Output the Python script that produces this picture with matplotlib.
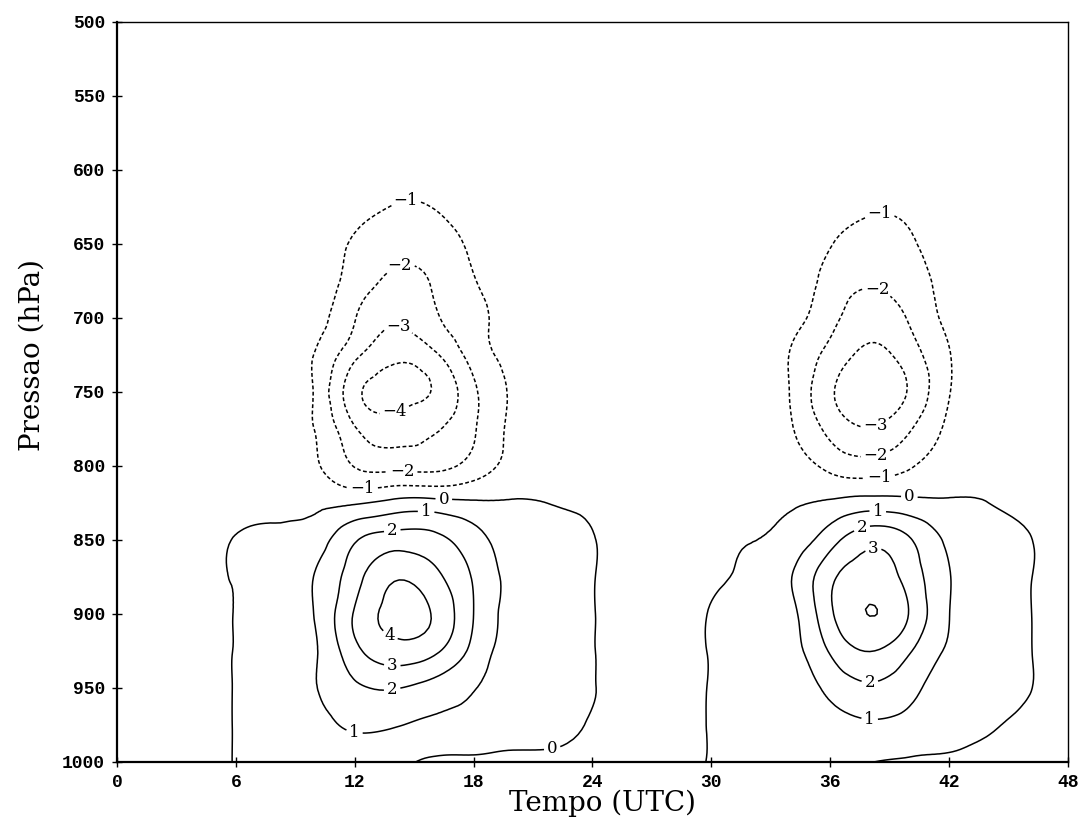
import numpy as np
import matplotlib
matplotlib.use('Agg')
import matplotlib.pyplot as plt
import matplotlib.tri as mtri

plt.rcParams['font.family'] = 'DejaVu Serif'

# -- grade: tempo (UTC) x nivel de pressao (hPa)
tempo = [0, 2, 4, 6, 8, 10, 12, 14, 16, 18, 20, 22, 24,
         26, 28, 30, 32, 34, 36, 38, 40, 42, 44, 46, 48]
pressao = [500, 525, 550, 575, 600, 625, 650, 675, 700, 725, 750,
           775, 800, 825, 850, 875, 900, 925, 950, 975, 1000]

# -- campo em cada nivel (um valor por horario da grade)
p500 = [-0.1, -0.1, -0.1, -0.1, -0.1, -0.1, -0.15, -0.2, -0.15, -0.1, -0.1, -0.1, -0.1,
        -0.1, -0.1, -0.1, -0.1, -0.1, -0.12, -0.15, -0.12, -0.1, -0.1, -0.1, -0.1]
p525 = [-0.1, -0.1, -0.1, -0.1, -0.1, -0.12, -0.2, -0.3, -0.25, -0.12, -0.1, -0.1, -0.1,
        -0.1, -0.1, -0.1, -0.1, -0.12, -0.18, -0.3, -0.22, -0.12, -0.1, -0.1, -0.1]
p550 = [-0.1, -0.1, -0.1, -0.1, -0.1, -0.15, -0.3, -0.45, -0.35, -0.2, -0.12, -0.1, -0.1,
        -0.1, -0.1, -0.1, -0.1, -0.15, -0.3, -0.45, -0.35, -0.15, -0.1, -0.1, -0.1]
p575 = [-0.1, -0.1, -0.1, -0.1, -0.12, -0.2, -0.4, -0.6, -0.5, -0.25, -0.15, -0.1, -0.1,
        -0.1, -0.1, -0.1, -0.1, -0.18, -0.38, -0.58, -0.45, -0.2, -0.12, -0.1, -0.1]
p600 = [-0.1, -0.1, -0.1, -0.1, -0.15, -0.3, -0.55, -0.8, -0.7, -0.4, -0.2, -0.12, -0.1,
        -0.1, -0.1, -0.1, -0.1, -0.2, -0.45, -0.72, -0.6, -0.25, -0.12, -0.1, -0.1]
p625 = [-0.1, -0.1, -0.1, -0.1, -0.2, -0.45, -0.75, -1.03, -0.98, -0.6, -0.3, -0.15, -0.1,
        -0.1, -0.1, -0.1, -0.12, -0.3, -0.62, -0.9, -0.82, -0.35, -0.15, -0.1, -0.1]
p650 = [-0.1, -0.1, -0.1, -0.1, -0.25, -0.6, -1.1, -1.6, -1.45, -0.85, -0.45, -0.2, -0.1,
        -0.1, -0.1, -0.1, -0.15, -0.25, -0.95, -1.4, -1.15, -0.4, -0.15, -0.1, -0.1]
p675 = [-0.1, -0.1, -0.1, -0.1, -0.3, -0.55, -1.4, -2.2, -1.9, -1.05, -0.55, -0.25, -0.1,
        -0.1, -0.1, -0.1, -0.15, -0.3, -1.4, -1.9, -1.5, -0.6, -0.2, -0.1, -0.1]
p700 = [-0.1, -0.1, -0.1, -0.1, -0.3, -0.65, -1.95, -2.85, -2.15, -1.3, -0.6, -0.25, -0.1,
        -0.1, -0.1, -0.1, -0.2, -0.62, -1.7, -2.5, -1.9, -0.75, -0.25, -0.1, -0.1]
p725 = [-0.1, -0.1, -0.1, -0.1, -0.3, -1.05, -2.75, -3.75, -3.2, -1.6, -0.7, -0.25, -0.1,
        -0.1, -0.1, -0.1, -0.2, -1.05, -2.35, -3.2, -2.5, -1.05, -0.3, -0.1, -0.1]
p750 = [-0.1, -0.1, -0.1, -0.1, -0.3, -1.1, -3.7, -4.3, -3.93, -2.2, -0.85, -0.3, -0.1,
        -0.1, -0.1, -0.1, -0.2, -1.05, -2.85, -3.5, -2.9, -1.05, -0.3, -0.1, -0.1]
p775 = [-0.1, -0.1, -0.1, -0.1, -0.35, -1.03, -2.9, -3.5, -3.1, -2.1, -0.75, -0.3, -0.1,
        -0.1, -0.1, -0.1, -0.2, -0.9, -2.3, -2.95, -2.1, -0.8, -0.25, -0.1, -0.1]
p800 = [-0.15, -0.15, -0.15, -0.15, -0.3, -0.85, -2.05, -2.3, -2.3, -1.6, -0.6, -0.25, -0.15,
        -0.15, -0.15, -0.15, -0.2, -0.5, -1.25, -1.6, -1.1, -0.45, -0.12, -0.15, -0.15]
p825 = [-0.2, -0.2, -0.2, -0.2, -0.2, -0.2, -0.1, 0.3, 0.35, 0.15, 0.08, -0.02, -0.1,
        -0.2, -0.2, -0.15, -0.2, -0.1, 0.15, 0.45, 0.3, 0.1, 0.0, -0.15, -0.2]
p850 = [-0.2, -0.2, -0.2, 0.03, 0.12, 0.5, 1.9, 2.5, 2.3, 1.4, 0.55, 0.3, 0.03,
        -0.2, -0.2, -0.15, -0.02, 0.4, 1.6, 2.7, 2.1, 0.8, 0.3, 0.03, -0.2]
p875 = [-0.2, -0.2, -0.2, 0.03, 0.18, 1.05, 2.6, 3.9, 3.3, 1.9, 0.7, 0.4, 0.03,
        -0.2, -0.2, -0.1, 0.15, 0.95, 2.75, 3.55, 2.6, 1.05, 0.35, 0.03, -0.2]
p900 = [-0.2, -0.2, -0.2, 0.03, 0.4, 1.05, 3.1, 4.3, 3.9, 2.0, 0.7, 0.45, 0.03,
        -0.2, -0.2, 0.03, 0.15, 0.7, 2.81, 4.02, 2.95, 1.02, 0.35, 0.03, -0.2]
p925 = [-0.2, -0.2, -0.2, 0.03, 0.35, 0.9, 2.7, 3.6, 3.2, 1.7, 0.6, 0.4, 0.03,
        -0.2, -0.2, 0.03, 0.15, 0.6, 2.1, 3.02, 2.1, 0.85, 0.35, 0.03, -0.2]
p950 = [-0.2, -0.2, -0.2, 0.03, 0.35, 0.95, 1.8, 2.05, 1.6, 1.05, 0.5, 0.3, 0.03,
        -0.2, -0.2, 0.03, 0.15, 0.42, 1.25, 1.85, 1.3, 0.55, 0.3, 0.03, -0.2]
p975 = [-0.2, -0.2, -0.2, 0.03, 0.35, 0.75, 1.1, 1.05, 0.85, 0.7, 0.45, 0.3, -0.07,
        -0.2, -0.2, 0.03, 0.15, 0.35, 0.6, 0.85, 0.65, 0.3, 0.08, -0.15, -0.2]
p1000 = [-0.2, -0.2, -0.2, 0.03, 0.3, 0.5, 0.5, 0.3, -0.2, -0.2, -0.33, -0.3, -0.3,
         -0.2, -0.2, 0.03, 0.1, 0.2, 0.2, 0.02, -0.1, -0.1, -0.2, -0.2, -0.2]

niveis = [-4, -3, -2, -1, 0, 1, 2, 3, 4]
xticks = [0, 6, 12, 18, 24, 30, 36, 42, 48]
yticks = [500, 550, 600, 650, 700, 750, 800, 850, 900, 950, 1000]

campo = np.array([p500, p525, p550, p575, p600, p625, p650, p675, p700, p725, p750,
                  p775, p800, p825, p850, p875, p900, p925, p950, p975, p1000])

# onde vao os rotulos das isolinhas (tempo, pressao)
rotulos = [(14.6, 624), (14.3, 666), (14.2, 706), (14.0, 762), (14.4, 803), (12.4, 814),
           (16.5, 821), (15.6, 833), (13.9, 844), (13.9, 911), (13.9, 934), (13.9, 952),
           (12.0, 979), (22.0, 994),
           (38.5, 630), (38.4, 679), (38.3, 773), (38.3, 793), (38.5, 807),
           (40.0, 820), (38.4, 831), (37.6, 842), (38.2, 858), (38.0, 946), (38.0, 970)]

fig = plt.figure(figsize=(10.82, 8.27), dpi=100)
ax = fig.add_axes([0.1081, 0.0786, 0.8789, 0.8948])

# triangulacao da grade, refinada para suavizar as isolinhas
T, P = np.meshgrid(tempo, pressao)
tri = mtri.Triangulation(T.ravel() / 2.0, P.ravel() / 25.0)
refinador = mtri.UniformTriRefiner(tri)
tri_f, z_f = refinador.refine_field(campo.ravel(), subdiv=3)
tri_f = mtri.Triangulation(tri_f.x * 2.0, tri_f.y * 25.0, tri_f.triangles)

# negativos tracejados, zero e positivos continuos
estilos = [(0, (2.5, 1.6)) if n < 0 else 'solid' for n in niveis]
cs = ax.tricontour(tri_f, z_f, levels=niveis, colors='k',
                   linewidths=1.1, linestyles=estilos)

ax.set_xlim(0, 48)
ax.set_ylim(1000, 500)
ax.set_xticks(xticks)
ax.set_yticks(yticks)


def fmt(v):
    return f'{v:.0f}'.replace('-', '\u2212')


txts = ax.clabel(cs, fmt=fmt, fontsize=12, inline=True, inline_spacing=3,
                 manual=rotulos)
for t in txts:
    t.set_rotation(0)

ax.tick_params(direction='inout', length=7, width=1.0, labelsize=13, pad=5)
for lb in ax.get_xticklabels() + ax.get_yticklabels():
    lb.set_fontfamily('Liberation Mono')
    lb.set_fontweight('bold')

for s in ['left', 'bottom']:
    ax.spines[s].set_linewidth(1.6)
for s in ['top', 'right']:
    ax.spines[s].set_linewidth(1.0)

ax.set_xlabel('Tempo (UTC)', fontsize=20)
ax.set_ylabel('Pressao (hPa)', fontsize=20)
ax.xaxis.set_label_coords(0.511, -0.038)
ax.yaxis.set_label_coords(-0.075, 0.55)

fig.savefig('out.png', dpi=100)
